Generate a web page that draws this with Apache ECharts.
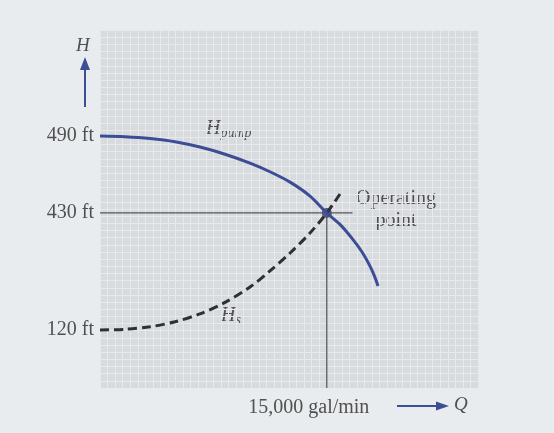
<!DOCTYPE html>
<html>
<head>
<meta charset="utf-8">
<script src="https://cdn.jsdelivr.net/npm/echarts@6/dist/echarts.min.js"></script>
<style>
html,body{margin:0;padding:0;background:#e9ecef;}
#c{width:554px;height:433px;}
</style>
</head>
<body>
<div id="c"></div>
<script>
// Schematic head units (figure is not drawn to scale): 0 = bottom of plot, 100 = top
var tickPositions = [70.4, 48.9, 16.2];
var tickLabels = ['490 ft', '430 ft', '120 ft'];
var qTickValues = [15000];
var qTickLabels = ['15,000 gal/min'];

// Pump curve: [Q gal/min, schematic H]
var pumpQ = [0, 1650, 3310, 4960, 6610, 8270, 9920, 11240, 12570, 13890, 15000, 15870, 16670, 17330, 17790, 18120, 18390];
var pumpH = [70.4, 70.2, 69.7, 68.8, 67.3, 65.3, 62.8, 60.4, 57.5, 53.6, 48.9, 45.7, 41.8, 38.0, 34.6, 31.6, 28.5];

// System curve
var sysQ = [0, 1650, 3310, 4960, 6610, 8270, 9920, 11240, 12570, 13890, 15000, 15870];
var sysH = [16.2, 16.4, 17.1, 18.5, 20.7, 23.9, 28.2, 32.7, 37.7, 43.3, 48.9, 54.2];

var opQ = 15000, opH = 48.9;
var guideEndQ = 16700;

function zip(a, b) { return a.map(function (v, i) { return [v, b[i]]; }); }

var chart = echarts.init(document.getElementById('c'));
var serif = 'Liberation Serif';
var txt = '#505050';

chart.setOption({
  backgroundColor: '#e9ecef',
  animation: false,
  grid: { left: 100, top: 30, right: 76, bottom: 45, show: true, backgroundColor: '#d8dbde', borderWidth: 0 },
  xAxis: {
    type: 'value', min: 0, max: 25000, interval: 500,
    axisLine: { show: false }, axisTick: { show: false },
    splitLine: { show: true, lineStyle: { color: '#e7e9ec', width: 1 } },
    axisLabel: {
      customValues: qTickValues, margin: 10, padding: [0, 36, 0, 0],
      fontFamily: serif, fontSize: 20, color: txt,
      formatter: function (v) { var i = qTickValues.indexOf(v); return i >= 0 ? qTickLabels[i] : ''; }
    }
  },
  yAxis: {
    type: 'value', min: 0, max: 100, interval: 2,
    axisLine: { show: false }, axisTick: { show: false },
    splitLine: { show: true, lineStyle: { color: '#e7e9ec', width: 1 } },
    axisLabel: {
      customValues: tickPositions, margin: 6,
      fontFamily: serif, fontSize: 20, color: txt,
      formatter: function (v) { var i = tickPositions.indexOf(v); return i >= 0 ? tickLabels[i] : ''; }
    }
  },
  series: [
    { type: 'line', data: [[0, opH], [guideEndQ, opH]], symbol: 'none', silent: true,
      lineStyle: { color: '#55585e', width: 1.3 } },
    { type: 'line', data: [[opQ, opH], [opQ, 0]], symbol: 'none', silent: true,
      lineStyle: { color: '#55585e', width: 1.3 } },
    { type: 'line', data: zip(sysQ, sysH), smooth: 0.3, symbol: 'none',
      lineStyle: { color: '#2f3036', width: 3, type: [9, 5] } },
    { type: 'line', data: zip(pumpQ, pumpH), smooth: 0.3, symbol: 'none',
      lineStyle: { color: '#3c4d96', width: 3 } },
    { type: 'scatter', data: [[opQ, opH]], symbolSize: 10, itemStyle: { color: '#2c3a7c' } }
  ],
  graphic: [
    { type: 'text', left: 76, top: 36, style: { text: 'H', fontFamily: serif, fontStyle: 'italic', fontSize: 19, fill: txt } },
    { type: 'line', shape: { x1: 85, y1: 107, x2: 85, y2: 68 }, style: { stroke: '#3d4f94', lineWidth: 2 } },
    { type: 'polygon', shape: { points: [[80, 70], [90, 70], [85, 57]] }, style: { fill: '#3d4f94' } },
    { type: 'line', shape: { x1: 397, y1: 406, x2: 438, y2: 406 }, style: { stroke: '#3d4f94', lineWidth: 2 } },
    { type: 'polygon', shape: { points: [[436, 401.5], [436, 410.5], [449, 406]] }, style: { fill: '#3d4f94' } },
    { type: 'text', left: 454, top: 395, style: { text: 'Q', fontFamily: serif, fontStyle: 'italic', fontSize: 19, fill: txt } },
    { type: 'text', left: 206, top: 119, style: {
        rich: { h: { fontFamily: serif, fontStyle: 'italic', fontSize: 20, fill: txt },
                s: { fontFamily: serif, fontStyle: 'italic', fontSize: 14, fill: txt, padding: [8, 0, 0, 0] } },
        text: '{h|H}{s|pump}' } },
    { type: 'text', left: 221, top: 306, style: {
        rich: { h: { fontFamily: serif, fontStyle: 'italic', fontSize: 20, fill: txt },
                s: { fontFamily: serif, fontStyle: 'italic', fontSize: 14, fill: txt, padding: [8, 0, 0, 0] } },
        text: '{h|H}{s|s}' } },
    { type: 'text', x: 396, y: 188, style: { text: 'Operating\npoint', align: 'center', fontFamily: serif, fontSize: 20, lineHeight: 22, fill: txt } }
  ]
});
</script>
</body>
</html>
